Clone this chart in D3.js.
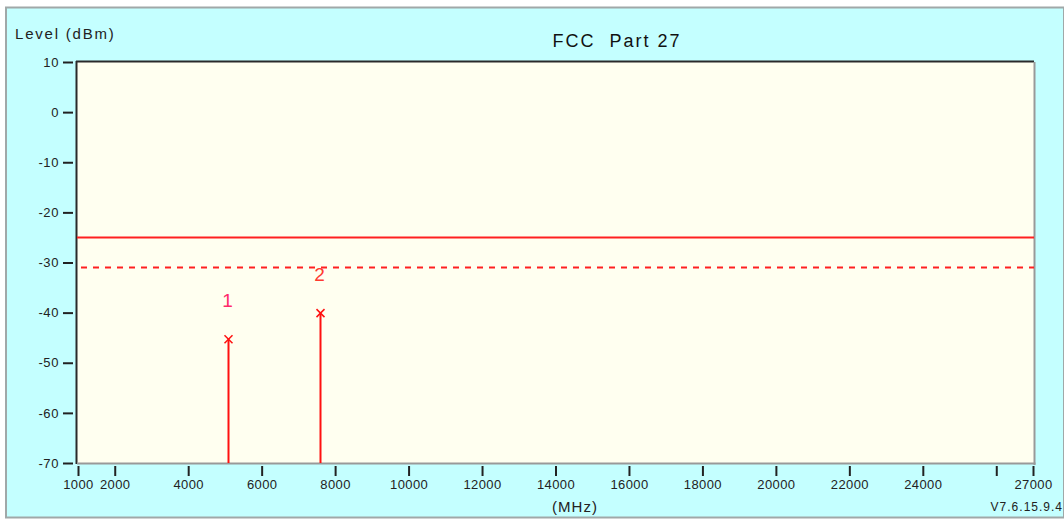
<!DOCTYPE html>
<html>
<head>
<meta charset="utf-8">
<script src="https://cdn.jsdelivr.net/npm/d3@7"></script>
<style>
html,body{margin:0;padding:0;background:#fff;}
svg{display:block;font-family:"Liberation Sans",Arial,sans-serif;}
</style>
</head>
<body>
<svg id="chart" width="1064" height="521"></svg>
<script>
const title = "FCC  Part 27";
const yLabel = "Level (dBm)";
const xLabel = "(MHz)";
const version = "V7.6.15.9.4";
const yTicks = [10, 0, -10, -20, -30, -40, -50, -60, -70];
const xTicks = [1000, 2000, 4000, 6000, 8000, 10000, 12000, 14000, 16000, 18000, 20000, 22000, 24000, 26000, 27000];
const xTickLabels = ["1000", "2000", "4000", "6000", "8000", "10000", "12000", "14000", "16000", "18000", "20000", "22000", "24000", "", "27000"];
const limitLine = -25;
const marginLine = -31;
const markerIds = ["1", "2"];
const markerFreq = [5080, 7590];
const markerLevel = [-45.3, -40.1];

const svg = d3.select("#chart");
const W = 1064, H = 521;
const plot = {l: 77, r: 1034, t: 62, b: 463};

// outer frame
svg.append("rect").attr("x", 0).attr("y", 0).attr("width", W).attr("height", H).attr("fill", "#fff");
svg.append("rect").attr("x", 6).attr("y", 7.5).attr("width", W - 6).attr("height", H - 11)
  .attr("fill", "#c4ffff").attr("stroke", "#a0a8a8").attr("stroke-width", 2);

const x = d3.scaleLinear().domain([1000, 27000]).range([78, 1033]);
const y = d3.scaleLinear().domain([-70, 10]).range([plot.b, plot.t]);

// plot background
svg.append("rect").attr("x", plot.l).attr("y", plot.t).attr("width", plot.r - plot.l).attr("height", plot.b - plot.t)
  .attr("fill", "#fffff0");
// borders: dark top/left, gray right/bottom
svg.append("line").attr("x1", plot.l - 1).attr("x2", plot.r).attr("y1", plot.t - 0.5).attr("y2", plot.t - 0.5).attr("stroke", "#2a2a2a").attr("stroke-width", 2);
svg.append("line").attr("x1", plot.l - 0.5).attr("x2", plot.l - 0.5).attr("y1", plot.t - 1).attr("y2", plot.b + 1).attr("stroke", "#2a2a2a").attr("stroke-width", 2);
svg.append("line").attr("x1", plot.r + 0.5).attr("x2", plot.r + 0.5).attr("y1", plot.t).attr("y2", plot.b + 2).attr("stroke", "#999").attr("stroke-width", 2);
svg.append("line").attr("x1", plot.l).attr("x2", plot.r + 1.5).attr("y1", plot.b + 0.5).attr("y2", plot.b + 0.5).attr("stroke", "#999").attr("stroke-width", 2);

// y axis
const yAxis = d3.axisLeft(y).tickValues(yTicks).tickSize(10).tickPadding(4).tickSizeOuter(0)
  .tickFormat(d => String(d));
const gy = svg.append("g").attr("transform", `translate(${plot.l - 4},0)`).call(yAxis);
gy.select(".domain").remove();
gy.selectAll(".tick line").attr("stroke", "#222").attr("stroke-width", 2);
gy.selectAll(".tick text").attr("fill", "#222").attr("font-size", 13).attr("letter-spacing", "0.6px")
  .attr("font-family", "Liberation Sans, Arial, sans-serif");

// x axis
const xAxis = d3.axisBottom(x).tickValues(xTicks).tickSize(10).tickPadding(4)
  .tickFormat((d, i) => xTickLabels[i]).tickSizeOuter(0);
const gx = svg.append("g").attr("transform", `translate(0,${plot.b + 3})`).call(xAxis);
gx.select(".domain").remove();
gx.selectAll(".tick line").attr("stroke", "#222").attr("stroke-width", 2);
gx.selectAll(".tick text").attr("fill", "#222").attr("font-size", 13).attr("letter-spacing", "0.4px")
  .attr("font-family", "Liberation Sans, Arial, sans-serif");

// limit lines
svg.append("line").attr("x1", plot.l).attr("x2", plot.r).attr("y1", y(limitLine)).attr("y2", y(limitLine))
  .attr("stroke", "#ff2020").attr("stroke-width", 2);
svg.append("line").attr("x1", plot.l + 4).attr("x2", plot.r).attr("y1", y(marginLine)).attr("y2", y(marginLine))
  .attr("stroke", "#ff2020").attr("stroke-width", 2).attr("stroke-dasharray", "6,6");

// markers
const mg = svg.append("g");
markerFreq.forEach((f, i) => {
  const mx = Math.round(x(f)) + 0.5, my = y(markerLevel[i]);
  mg.append("line").attr("x1", mx).attr("x2", mx).attr("y1", my).attr("y2", plot.b)
    .attr("stroke", "#ff1010").attr("stroke-width", 2);
  mg.append("path").attr("d", `M${mx-4},${my-4}L${mx+4},${my+4}M${mx-4},${my+4}L${mx+4},${my-4}`)
    .attr("stroke", "#ff1010").attr("stroke-width", 1.5).attr("fill", "none");
  mg.append("text").attr("x", mx - 1).attr("y", my - 32).attr("text-anchor", "middle")
    .attr("font-size", 19).attr("fill", i === 0 ? "#ff2a6a" : "#ff3a30")
    .attr("font-family", "Liberation Sans, Arial, sans-serif").text(markerIds[i]);
});

// texts
svg.append("text").attr("x", 617).attr("y", 47).attr("text-anchor", "middle").attr("font-size", 18)
  .attr("letter-spacing", "2px").style("white-space", "pre").attr("fill", "#111").text(title);
svg.append("text").attr("x", 15).attr("y", 39).attr("font-size", 15).attr("letter-spacing", "1.8px")
  .attr("fill", "#222").text(yLabel);
svg.append("text").attr("x", 575).attr("y", 512).attr("text-anchor", "middle").attr("font-size", 15)
  .attr("letter-spacing", "1px").attr("fill", "#222").text(xLabel);
svg.append("text").attr("x", 1063).attr("y", 511).attr("text-anchor", "end").attr("font-size", 12)
  .attr("letter-spacing", "1px").attr("fill", "#222").text(version);
</script>
</body>
</html>
